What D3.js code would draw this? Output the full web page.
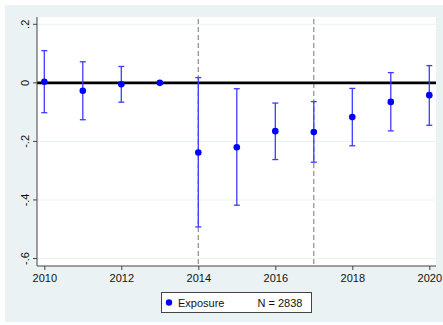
<!DOCTYPE html>
<html><head><meta charset="utf-8">
<script src="https://cdn.jsdelivr.net/npm/d3@7"></script>
<style>body{margin:0;background:#fff}svg{display:block;font-family:"Liberation Sans",Arial,sans-serif}</style>
</head><body><svg id="c" width="443" height="325"></svg>
<script>
const years = [2010,2011,2012,2013,2014,2015,2016,2017,2018,2019,2020];
const estimates = [0.004,-0.027,-0.005,0,-0.238,-0.22,-0.165,-0.168,-0.117,-0.065,-0.042];
const ciLow = [-0.102,-0.126,-0.066,null,-0.492,-0.418,-0.262,-0.271,-0.215,-0.164,-0.145];
const ciHigh = [0.110,0.072,0.056,null,0.018,-0.02,-0.069,-0.064,-0.019,0.035,0.059];
const xTicks = [2010,2012,2014,2016,2018,2020];
const yTicks = [0.2,0,-0.2,-0.4,-0.6];
const yTickLabels = [".2","0","-.2","-.4","-.6"];
const refYears = [2014,2017];
const legendLabel = "Exposure";
const nLabel = "N = 2838";

const svg = d3.select("#c");
const plot = {l:37, r:436, t:17, b:266};
svg.append("rect").attr("x",5).attr("y",5).attr("width",438).attr("height",317).attr("fill","#eaf2f3");
svg.append("rect").attr("x",plot.l).attr("y",plot.t).attr("width",plot.r-plot.l).attr("height",plot.b-plot.t).attr("fill","#fff");

const x = d3.scaleLinear().domain([2010,2020]).range([44.3,429.3]);
const y = d3.scaleLinear().domain([0.2,-0.6]).range([24.3,258.5]);

// gridlines
svg.append("g").selectAll("line").data(yTicks).join("line")
  .attr("x1",plot.l).attr("x2",plot.r).attr("y1",d=>y(d)).attr("y2",d=>y(d))
  .attr("stroke","#eaf2f3").attr("stroke-width",1);

// reference lines
svg.append("g").selectAll("line").data(refYears).join("line")
  .attr("x1",d=>x(d)).attr("x2",d=>x(d)).attr("y1",plot.t+2).attr("y2",plot.b)
  .attr("stroke","#8c8c8c").attr("stroke-width",1.2).attr("stroke-dasharray","5,3");

// zero line
svg.append("line").attr("x1",plot.l).attr("x2",plot.r).attr("y1",y(0)).attr("y2",y(0))
  .attr("stroke","#000").attr("stroke-width",2.6);

// axes
const yAxis = d3.axisLeft(y).tickValues(yTicks).tickSize(4).tickFormat((d,i)=>yTickLabels[i]);
const gy = svg.append("g").attr("transform",`translate(${plot.l},0)`).call(yAxis);
gy.select(".domain").attr("d",`M0,${plot.t}V${plot.b}`).attr("stroke","#444");
gy.selectAll(".tick line").attr("stroke","#444");
gy.selectAll(".tick text").attr("font-size",11).attr("fill","#111")
  .attr("transform","rotate(-90)").attr("x",0).attr("y",-11).attr("dy","0")
  .attr("text-anchor","middle")
  .each(function(d){ d3.select(this).attr("x",-y(d)).attr("y",-8); });
gy.selectAll(".tick").attr("transform",null);
gy.selectAll(".tick line").attr("y1",d=>y(d)).attr("y2",d=>y(d)).attr("x2",-4);

const xAxis = d3.axisBottom(x).tickValues(xTicks).tickSize(4).tickFormat(d3.format("d"));
const gx = svg.append("g").attr("transform",`translate(0,${plot.b})`).call(xAxis);
gx.select(".domain").attr("d",`M${plot.l},0H${plot.r}`).attr("stroke","#444");
gx.selectAll(".tick line").attr("stroke","#444");
gx.selectAll(".tick text").attr("font-size",11).attr("fill","#111").attr("y",8).attr("dy","0.71em");

// CIs
const data = years.map((yr,i)=>({yr,est:estimates[i],lo:ciLow[i],hi:ciHigh[i]}));
const ci = data.filter(d=>d.lo!==null);
const cg = svg.append("g").attr("stroke","#3c3cff").attr("stroke-width",1.3);
cg.selectAll(".v").data(ci).join("line").attr("x1",d=>x(d.yr)).attr("x2",d=>x(d.yr)).attr("y1",d=>y(d.lo)).attr("y2",d=>y(d.hi));
cg.selectAll(".t").data(ci).join("line").attr("x1",d=>x(d.yr)-3).attr("x2",d=>x(d.yr)+3).attr("y1",d=>y(d.hi)).attr("y2",d=>y(d.hi));
cg.selectAll(".b").data(ci).join("line").attr("x1",d=>x(d.yr)-3).attr("x2",d=>x(d.yr)+3).attr("y1",d=>y(d.lo)).attr("y2",d=>y(d.lo));

svg.append("g").selectAll("circle").data(data).join("circle")
  .attr("cx",d=>x(d.yr)).attr("cy",d=>y(d.est)).attr("r",3.3).attr("fill","#0000ff");

// legend
const lg = svg.append("g");
lg.append("rect").attr("x",161.5).attr("y",292.5).attr("width",150).attr("height",20).attr("fill","#fff").attr("stroke","#444").attr("stroke-width",1);
lg.append("circle").attr("cx",169).attr("cy",302.5).attr("r",3.2).attr("fill","#0000ff");
lg.append("text").attr("x",178).attr("y",306.5).attr("font-size",11).attr("fill","#111").text(legendLabel);
lg.append("text").attr("x",257.5).attr("y",306.5).attr("font-size",11).attr("fill","#111").text(nLabel);
</script></body></html>
